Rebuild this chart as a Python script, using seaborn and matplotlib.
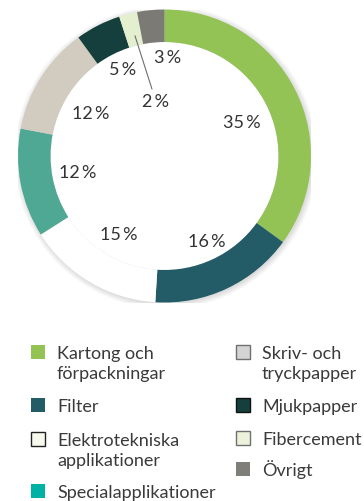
import matplotlib
matplotlib.use("Agg")
import numpy as np
import matplotlib.pyplot as plt
import seaborn as sns
from matplotlib.patches import Rectangle, Circle

# Production share by segment
categories = ["Kartong och\nförpackningar", "Filter", "Elektrotekniska\napplikationer",
              "Specialapplikationer", "Skriv- och\ntryckpapper", "Mjukpapper",
              "Fibercement", "Övrigt"]
shares = [35, 16, 15, 12, 12, 5, 2, 3]
value_labels = [f"{v}\u2009%" for v in shares]

slice_colors = ["#93c255", "#235c66", "#ffffff", "#4ea894",
                "#d2cbbf", "#143f3c", "#e3efcf", "#7b7a75"]
legend_colors = ["#93c255", "#235c66", "#f8f9ee", "#00b2a3",
                 "#d4d4d4", "#143f3c", "#ecf2dc", "#7f7e79"]
legend_edges = [None, None, "#222222", None, "#707070", "#111111", "#707070", None]

sns.set_theme(style="white")
plt.rcParams["font.family"] = ["Lato", "DejaVu Sans"]

W, H = 364, 502
fig = plt.figure(figsize=(W / 100, H / 100), dpi=100)
fig.patch.set_facecolor("white")

cx, cy, R = 164.5, 157.0, 146.5
ax = fig.add_axes([(cx - R) / W, (H - cy - R) / H, 2 * R / W, 2 * R / H])
ax.set_facecolor("none")

# soft drop shadow behind the ring
for k in range(7):
    ax.add_patch(Circle((0.008, -0.008), 1.0 + 0.006 * k, color="black",
                        alpha=0.018, lw=0, zorder=0))
ax.add_patch(Circle((0, 0), 0.778, color="white", lw=0, zorder=0.5))

wedges, _ = ax.pie(shares, colors=slice_colors, startangle=90, counterclock=False,
                   radius=1.0, wedgeprops=dict(width=0.222, linewidth=0))
for w in wedges:
    w.set_zorder(1)
ax.set_xlim(-1, 1)
ax.set_ylim(-1, 1)

# label placement: radius and angular nudge for each slice label
label_r = [0.575, 0.65, 0.62, 0.60, 0.585, 0.66, 0.38, 0.675]
label_dang = [-3, 1.4, 0, 0, 2.5, -1, -4.6, -7]
text_color = "#333333"
for w, lab, r, da in zip(wedges, value_labels, label_r, label_dang):
    mid = np.deg2rad((w.theta1 + w.theta2) / 2 + da)
    ax.text(r * np.cos(mid), r * np.sin(mid), lab, ha="center", va="center",
            fontsize=13, color=text_color, zorder=3)

# leader line for the thin Fibercement slice
fw = wedges[6]
fm = (fw.theta1 + fw.theta2) / 2
a0, a1 = np.deg2rad(fm - 0.6), np.deg2rad(fm - 3.8)
ax.plot([0.845 * np.cos(a0), 0.465 * np.cos(a1)],
        [0.845 * np.sin(a0), 0.465 * np.sin(a1)],
        color="#6e6e6e", lw=0.8, zorder=3)

# legend in two columns
slots = [(31, 346), (31, 399), (31, 433), (31, 485),
         (236, 346), (236, 399), (236, 432), (236, 463)]
for (x, y), name, fc, ec in zip(slots, categories, legend_colors, legend_edges):
    fig.add_artist(Rectangle((x / W, 1 - (y + 14) / H), 14 / W, 14 / H,
                             transform=fig.transFigure, facecolor=fc,
                             edgecolor=ec if ec else fc, lw=1.0 if ec else 0))
    for i, line in enumerate(name.split("\n")):
        fig.text((x + 26) / W, 1 - (y + 13 + 20 * i) / H, line, ha="left",
                 va="baseline", fontsize=13, color="#3a3a3a")

fig.savefig("out.png", dpi=100, facecolor="white")
